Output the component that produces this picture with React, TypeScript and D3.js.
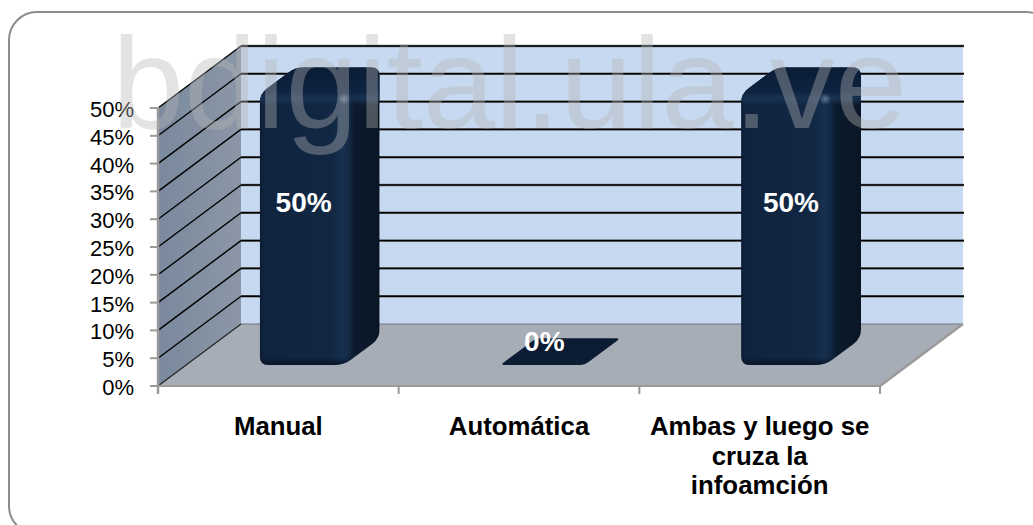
import React from "react";
import * as d3 from "d3";

// Chart content
const categories = ["Manual", "Automática", "Ambas y luego se cruza la infoamción"];
const categoryLines = [["Manual"], ["Automática"], ["Ambas y luego se", "cruza la", "infoamción"]];
const values = [50, 0, 50];
const yTicks = [0, 5, 10, 15, 20, 25, 30, 35, 40, 45, 50];
const watermark = "bdigital.ula.ve";

// Oblique projection of the 3D box
const W = 1033;
const H = 525;
const DEPTH_X = 83;
const DEPTH_Y = -62;
const FRONT = { left: 158, right: 880, bottom: 386, top: 108 };
const BAR_Z0 = 0.34;
const BAR_Z1 = 0.77;
const TOP_BEVEL = 7;
const FONT = "'Liberation Sans', Arial, sans-serif";

const y = d3.scaleLinear().domain([0, 50]).range([FRONT.bottom, FRONT.top]);
const x = d3
  .scaleBand<string>()
  .domain(categories)
  .range([FRONT.left, FRONT.right])
  .paddingInner(0.65)
  .paddingOuter(0.325)
  .align(0.47);
const xAxisBand = d3.scaleBand<string>().domain(categories).range([FRONT.left, FRONT.right]);

type P = [number, number];

const project = (px: number, py: number, z: number): P => [px + z * DEPTH_X, py + z * DEPTH_Y];
const poly = (pts: P[]) => "M" + pts.map((p) => p.join(",")).join("L") + "Z";

// Closed outline whose corners are rounded with quadratic curves
function roundedPath(pts: P[], radius: number): string {
  const n = pts.length;
  const path = d3.path();
  pts.forEach((p, i) => {
    const a = pts[(i - 1 + n) % n];
    const b = pts[(i + 1) % n];
    const toward = (q: P): P => {
      const d = Math.hypot(q[0] - p[0], q[1] - p[1]) || 1;
      const r = Math.min(radius, d / 2);
      return [p[0] + ((q[0] - p[0]) / d) * r, p[1] + ((q[1] - p[1]) / d) * r];
    };
    const s = toward(a);
    const e = toward(b);
    if (i === 0) path.moveTo(s[0], s[1]);
    else path.lineTo(s[0], s[1]);
    path.quadraticCurveTo(p[0], p[1], e[0], e[1]);
  });
  path.closePath();
  return path.toString();
}

function Bar({ category, value, index }: { category: string; value: number; index: number }) {
  const x0 = x(category)!;
  const x1 = x0 + x.bandwidth();
  const base = y(0);
  const top = y(value) + (value > 0 ? TOP_BEVEL : 0);
  const fbl = project(x0, base, BAR_Z0);
  const fbr = project(x1, base, BAR_Z0);
  const bbr = project(x1, base, BAR_Z1);
  const btr = project(x1, top, BAR_Z1);
  const btl = project(x0, top, BAR_Z1);
  const ftl = project(x0, top, BAR_Z0);
  const ftr = project(x1, top, BAR_Z0);

  if (value === 0) {
    return <path d={roundedPath([fbl, fbr, btr, btl], 4)} fill="#0b1c33" />;
  }
  const outline = roundedPath([fbl, fbr, bbr, btr, btl, ftl], 9);
  const clipId = `bar-clip-${index}`;
  return (
    <g>
      <clipPath id={clipId}>
        <path d={outline} />
      </clipPath>
      <g clipPath={`url(#${clipId})`}>
        <rect x={fbl[0]} y={btl[1]} width={bbr[0] - fbl[0]} height={fbl[1] - btl[1]} fill="url(#barBody)" />
        <rect x={fbl[0]} y={btl[1]} width={bbr[0] - fbl[0]} height={ftl[1] - btl[1] + 12} fill="url(#barCap)" />
        <rect x={fbl[0]} y={fbl[1] - 8} width={bbr[0] - fbl[0]} height={8} fill="url(#barFoot)" />
        <circle cx={ftr[0]} cy={ftr[1] + 5} r={6} fill="url(#barGlow)" />
      </g>
    </g>
  );
}

export default function App() {
  const backTop = (v: number) => project(FRONT.right, y(v), 1)[1];
  const bl = project(FRONT.left, FRONT.bottom, 1);
  const br = project(FRONT.right, FRONT.bottom, 1);
  const tl = project(FRONT.left, FRONT.top, 1);
  const tr = project(FRONT.right, FRONT.top, 1);
  const axisTicks = [...categories.map((c) => xAxisBand(c)!), FRONT.right];

  return (
    <svg
      width={W}
      height={H}
      viewBox={`0 0 ${W} ${H}`}
      style={{ position: "absolute", left: 0, top: 0, background: "#fff" }}
      fontFamily={FONT}
    >
      <defs>
        <linearGradient id="sideWall" x1="0" x2="1" y1="0" y2="0">
          <stop offset="0" stopColor="#7a899d" />
          <stop offset="1" stopColor="#8b97a7" />
        </linearGradient>
        <linearGradient id="barBody" x1="0" x2="1" y1="0" y2="0">
          <stop offset="0" stopColor="#0b1b31" />
          <stop offset="0.035" stopColor="#10243f" />
          <stop offset="0.6" stopColor="#112743" />
          <stop offset="0.69" stopColor="#16304f" />
          <stop offset="0.74" stopColor="#142a47" />
          <stop offset="0.79" stopColor="#0b1a2d" />
          <stop offset="0.97" stopColor="#0a1727" />
          <stop offset="1" stopColor="#091421" />
        </linearGradient>
        <linearGradient id="barCap" x1="0" x2="0" y1="0" y2="1">
          <stop offset="0" stopColor="#0a1c36" />
          <stop offset="0.62" stopColor="#0d2340" />
          <stop offset="0.8" stopColor="#183150" />
          <stop offset="1" stopColor="#183150" stopOpacity="0" />
        </linearGradient>
        <linearGradient id="barFoot" x1="0" x2="0" y1="0" y2="1">
          <stop offset="0" stopColor="#0a1727" stopOpacity="0" />
          <stop offset="1" stopColor="#081425" />
        </linearGradient>
        <radialGradient id="barGlow">
          <stop offset="0" stopColor="#8fa6c0" stopOpacity="0.6" />
          <stop offset="1" stopColor="#8fa6c0" stopOpacity="0" />
        </radialGradient>
      </defs>

      {/* Rounded frame, running past the right and bottom edges */}
      <rect x={9} y={12} width={1045} height={522} rx={28} fill="#fff" stroke="#8c8c8c" strokeWidth={2} />

      {/* Back wall, side wall and floor */}
      <path d={poly([tl, tr, br, bl])} fill="#c6d9f0" />
      <path d={poly([[FRONT.left, FRONT.top], tl, bl, [FRONT.left, FRONT.bottom]])} fill="url(#sideWall)" />
      <path d={poly([[FRONT.left, FRONT.bottom], [FRONT.right, FRONT.bottom], br, bl])} fill="#a7adb7" />
      <line x1={bl[0]} y1={bl[1]} x2={br[0]} y2={br[1]} stroke="#6e747e" strokeWidth={1} />

      {/* Gridlines wrapping the side and back walls */}
      {yTicks
        .filter((t) => t > 0)
        .map((t) => (
          <g key={t} fill="none" stroke="#000">
            <line x1={FRONT.left} y1={y(t)} x2={bl[0]} y2={backTop(t)} strokeWidth={1.4} />
            <line x1={bl[0]} y1={backTop(t)} x2={br[0] + 1} y2={backTop(t)} stroke="#6b6f74" strokeWidth={2.6} />
            <line x1={bl[0]} y1={backTop(t)} x2={br[0] + 1} y2={backTop(t)} strokeWidth={1.4} />
          </g>
        ))}
      <line x1={FRONT.left} y1={y(0)} x2={bl[0]} y2={bl[1]} stroke="#222" strokeWidth={1.2} />

      {/* Axes */}
      <g stroke="#9a9a9a" strokeWidth={2} fill="none">
        <line x1={FRONT.left} y1={FRONT.top - 1} x2={FRONT.left} y2={FRONT.bottom + 8} strokeWidth={2.5} />
        <line x1={FRONT.left} y1={FRONT.bottom} x2={FRONT.right} y2={FRONT.bottom} />
        <line x1={FRONT.right} y1={FRONT.bottom} x2={br[0]} y2={br[1]} strokeWidth={2.5} />
        {yTicks.map((t) => (
          <line key={t} x1={FRONT.left - 8} y1={y(t)} x2={FRONT.left} y2={y(t)} />
        ))}
        {axisTicks.map((t) => (
          <line key={t} x1={t} y1={FRONT.bottom} x2={t} y2={FRONT.bottom + 8} />
        ))}
      </g>

      {/* Tick labels */}
      <g fontSize={22} fill="#000" textAnchor="end">
        {yTicks.map((t) => (
          <text key={t} x={134} y={y(t) + 9}>
            {`${t}%`}
          </text>
        ))}
      </g>

      {/* Columns */}
      {categories.map((c, i) => (
        <Bar key={c} category={c} value={values[i]} index={i} />
      ))}

      {/* Value labels */}
      <g fontSize={28} fontWeight="bold" fill="#fff" textAnchor="middle">
        {categories.map((c, i) => (
          <text key={c} x={x(c)! + x.bandwidth() / 2 + 30 + (i === 2 ? 6 : 0)} y={y(values[i] / 2) - 35}>
            {`${values[i]}%`}
          </text>
        ))}
      </g>

      {/* Category labels */}
      <g fontSize={25.8} fontWeight="bold" fill="#000" textAnchor="middle">
        {categories.map((c, i) =>
          categoryLines[i].map((line, j) => (
            <text key={line} x={xAxisBand(c)! + xAxisBand.bandwidth() / 2} y={435 + j * 29.5}>
              {line}
            </text>
          ))
        )}
      </g>

      {/* Watermark across the top */}
      <text x={112} y={128} fontSize={130} fill="rgb(182,182,182)" fillOpacity={0.385}>
        {watermark}
      </text>
    </svg>
  );
}
